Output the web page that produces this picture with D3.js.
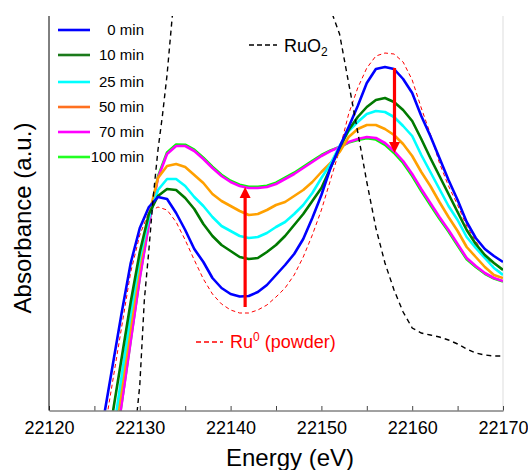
<!DOCTYPE html>
<html><head><meta charset="utf-8">
<script src="https://cdn.jsdelivr.net/npm/d3@7"></script>
<style>
body{margin:0;background:#fff}
svg{display:block}
text{font-family:"Liberation Sans",Arial,Helvetica,sans-serif}
</style>
</head><body>
<svg id="chart" width="528" height="470"></svg>
<script>
// ---------- data ----------
const energies = [22126,22127,22128,22129,22130,22131,22132,22133,22134,22135,
  22136,22137,22138,22139,22140,22141,22142,22143,22144,22145,
  22146,22147,22148,22149,22150,22151,22152,22153,22154,22155,
  22156,22157,22158,22159,22160,22161,22162,22163,22164,22165,
  22166,22167,22168,22169,22170];

const abs0min = [-0.034,0.178,0.390,0.590,0.730,0.814,0.854,0.846,0.790,0.722,
  0.646,0.594,0.530,0.490,0.466,0.456,0.458,0.474,0.502,0.542,
  0.582,0.626,0.686,0.770,0.862,0.970,1.054,1.134,1.218,1.310,
  1.366,1.374,1.366,1.326,1.270,1.178,1.098,1.010,0.922,0.842,
  0.754,0.690,0.646,0.618,0.594];
const abs10min = [-0.242,-0.014,0.210,0.434,0.634,0.786,0.858,0.886,0.882,0.850,
  0.806,0.746,0.698,0.662,0.638,0.614,0.606,0.610,0.634,0.662,
  0.698,0.742,0.786,0.838,0.890,0.970,1.050,1.122,1.174,1.214,
  1.242,1.250,1.234,1.202,1.158,1.086,1.010,0.938,0.866,0.794,
  0.722,0.666,0.622,0.590,0.562];
const abs25min = [-0.362,-0.110,0.138,0.386,0.610,0.770,0.882,0.926,0.926,0.898,
  0.854,0.818,0.774,0.738,0.718,0.698,0.690,0.694,0.710,0.734,
  0.754,0.786,0.822,0.870,0.930,0.986,1.058,1.118,1.154,1.186,
  1.198,1.194,1.174,1.138,1.098,1.022,0.954,0.886,0.818,0.762,
  0.694,0.650,0.610,0.570,0.542];
const abs50min = [-0.402,-0.154,0.090,0.338,0.582,0.782,0.930,0.978,0.986,0.974,
  0.942,0.910,0.866,0.838,0.818,0.798,0.782,0.786,0.802,0.822,
  0.834,0.858,0.882,0.914,0.954,0.990,1.034,1.094,1.126,1.142,
  1.142,1.126,1.102,1.066,1.018,0.954,0.898,0.834,0.774,0.718,
  0.654,0.614,0.574,0.542,0.530];
const abs70min = [-0.474,-0.222,0.026,0.278,0.530,0.746,0.930,1.026,1.058,1.058,
  1.038,1.006,0.970,0.938,0.914,0.898,0.890,0.890,0.894,0.906,
  0.926,0.946,0.970,0.994,1.018,1.038,1.054,1.074,1.086,1.094,
  1.090,1.070,1.038,0.998,0.946,0.886,0.830,0.774,0.722,0.666,
  0.610,0.578,0.550,0.530,0.518];
const abs100min = [-0.470,-0.218,0.030,0.282,0.534,0.750,0.936,1.032,1.064,1.063,
  1.043,1.011,0.975,0.943,0.919,0.903,0.895,0.895,0.899,0.911,
  0.931,0.951,0.975,0.999,1.022,1.040,1.054,1.072,1.082,1.089,
  1.084,1.063,1.030,0.990,0.938,0.878,0.822,0.767,0.716,0.660,
  0.605,0.574,0.547,0.528,0.516];
const absRu0 = [-0.106,0.114,0.334,0.554,0.702,0.794,0.814,0.802,0.754,0.682,
  0.602,0.526,0.466,0.426,0.402,0.390,0.390,0.402,0.422,0.454,
  0.490,0.542,0.614,0.702,0.802,0.922,1.042,1.186,1.290,1.370,
  1.418,1.430,1.426,1.394,1.322,1.210,1.106,0.990,0.898,0.822,
  0.738,0.678,0.618,0.574,0.546];

// RuO2 reference (null = off scale, above the plot)
const ruo2Energies = [22129.7,22130.0,22130.5,22131.0,22131.5,22132.0,22132.5,22133.0,22133.6,22140,
  22151.2,22152,22153,22154,22155,22156,22157,22158,22159,22160,
  22161,22162,22163,22164,22165,22166,22167,22168,22169,22170];
const absRuO2 = [-0.006,0.102,0.442,0.642,0.862,1.042,1.182,1.342,1.586,null,
  1.586,1.506,1.310,1.114,0.914,0.730,0.590,0.482,0.394,0.330,
  0.310,0.302,0.294,0.282,0.266,0.246,0.230,0.222,0.218,0.218];

const seriesNames = ["0 min","10 min","25 min","50 min","70 min","100 min"];
const seriesValues = [abs0min,abs10min,abs25min,abs50min,abs70min,abs100min];
const lineColors = ["#0000ff","#007a00","#00ffff","#ffa000","#ff00ff","#00ff00"];
const legendColors = ["#0000ff","#1a7a1a","#00ffff","#ff7020","#ff00ff","#22ff22"];

const xTicks = [22120,22125,22130,22135,22140,22145,22150,22155,22160,22165,22170];
const xTickLabels = ["22120","","22130","","22140","","22150","","22160","","22170"];

// arrows: [energy, from, to]
const arrowUp = [22141.6, 0.414, 0.894];
const arrowDown = [22158.05, 1.370, 1.030];

// ---------- drawing ----------
const svg = d3.select("#chart");
const x = d3.scaleLinear().domain([22120,22170]).range([49,503]);
const y = d3.scaleLinear().domain([0,1.578]).range([410.5,16]);

svg.append("defs").append("clipPath").attr("id","plotclip")
  .append("rect").attr("x",49).attr("y",16).attr("width",454).attr("height",394.5);

// right frame line (light gray)
svg.append("line").attr("x1",503).attr("x2",503).attr("y1",16).attr("y2",410.5)
  .attr("stroke","#dddddd").attr("stroke-width",1);

const plot = svg.append("g").attr("clip-path","url(#plotclip)");
const line = d3.line().x(d=>x(d[0])).y(d=>y(d[1]));

// Ru0 powder dashed
plot.append("path").datum(energies.map((e,i)=>[e,absRu0[i]]))
  .attr("d",line).attr("fill","none").attr("stroke","#ff0000")
  .attr("stroke-width",1).attr("stroke-dasharray","4,3");

// series, drawn from last to first so 0 min is on top
for (let k = seriesValues.length-1; k >= 0; k--) {
  plot.append("path").datum(energies.map((e,i)=>[e,seriesValues[k][i]]))
    .attr("d",line).attr("fill","none").attr("stroke",lineColors[k])
    .attr("stroke-width",2.6).attr("stroke-linejoin","round");
}

// RuO2 dashed
const lineDef = d3.line().defined(d=>d[1]!==null).x(d=>x(d[0])).y(d=>y(d[1]));
plot.append("path").datum(ruo2Energies.map((e,i)=>[e,absRuO2[i]]))
  .attr("d",lineDef).attr("fill","none").attr("stroke","#000")
  .attr("stroke-width",1.4).attr("stroke-dasharray","5,4");

// arrows
function arrow(a){
  const ax = x(a[0]), y0 = y(a[1]), y1 = y(a[2]);
  const dir = y1 < y0 ? 1 : -1;
  const headLen = 11, headW = 5.5;
  const base = y1 + dir*headLen;
  svg.append("line").attr("x1",ax).attr("x2",ax).attr("y1",y0).attr("y2",base)
    .attr("stroke","#ff0000").attr("stroke-width",3.2);
  svg.append("path").attr("d",`M${ax-headW},${base}L${ax+headW},${base}L${ax},${y1}Z`)
    .attr("fill","#ff0000");
}
arrow(arrowUp);
arrow(arrowDown);

// axes
const xAxis = d3.axisBottom(x).tickValues(xTicks)
  .tickFormat((d,i)=>xTickLabels[i]).tickSizeInner(-4.5).tickSizeOuter(0).tickPadding(11);
const gx = svg.append("g").attr("transform","translate(0,410.5)").call(xAxis);
gx.select(".domain").attr("stroke","#444");
gx.selectAll(".tick line").attr("stroke","#444");
gx.selectAll(".tick text").attr("font-size",18).attr("fill","#000")
  .attr("font-family","'Liberation Sans',Arial,sans-serif");

svg.append("line").attr("x1",49).attr("x2",49).attr("y1",16).attr("y2",410.5)
  .attr("stroke","#000").attr("stroke-width",1);

// axis titles
svg.append("text").attr("x",290).attr("y",466).attr("text-anchor","middle")
  .attr("font-size",24).text("Energy (eV)");
svg.append("text").attr("transform","translate(31,218) rotate(-90)")
  .attr("text-anchor","middle").attr("font-size",24).text("Absorbance (a.u.)");

// legend
const legendY = [30,55,82,107,132,157];
seriesNames.forEach((n,i)=>{
  svg.append("line").attr("x1",58).attr("x2",90).attr("y1",legendY[i]).attr("y2",legendY[i])
    .attr("stroke",legendColors[i]).attr("stroke-width",2.6);
  svg.append("text").attr("x",144).attr("y",legendY[i]+5).attr("text-anchor","end")
    .attr("font-size",15).text(n);
});

// RuO2 label
svg.append("line").attr("x1",249).attr("x2",277).attr("y1",45).attr("y2",45)
  .attr("stroke","#000").attr("stroke-width",1.6).attr("stroke-dasharray","5,3");
const t1 = svg.append("text").attr("x",284).attr("y",52).attr("font-size",18).attr("fill","#000");
t1.append("tspan").text("RuO");
t1.append("tspan").attr("font-size",12).attr("dy",4).text("2");

// Ru0 label
svg.append("line").attr("x1",196).attr("x2",223).attr("y1",342).attr("y2",342)
  .attr("stroke","#ff0000").attr("stroke-width",1.6).attr("stroke-dasharray","5,3");
const t2 = svg.append("text").attr("x",230).attr("y",348).attr("font-size",18).attr("fill","#ff0000");
t2.append("tspan").text("Ru");
t2.append("tspan").attr("font-size",12).attr("dy",-7).text("0");
t2.append("tspan").attr("dy",7).text(" (powder)");
</script>
</body></html>
